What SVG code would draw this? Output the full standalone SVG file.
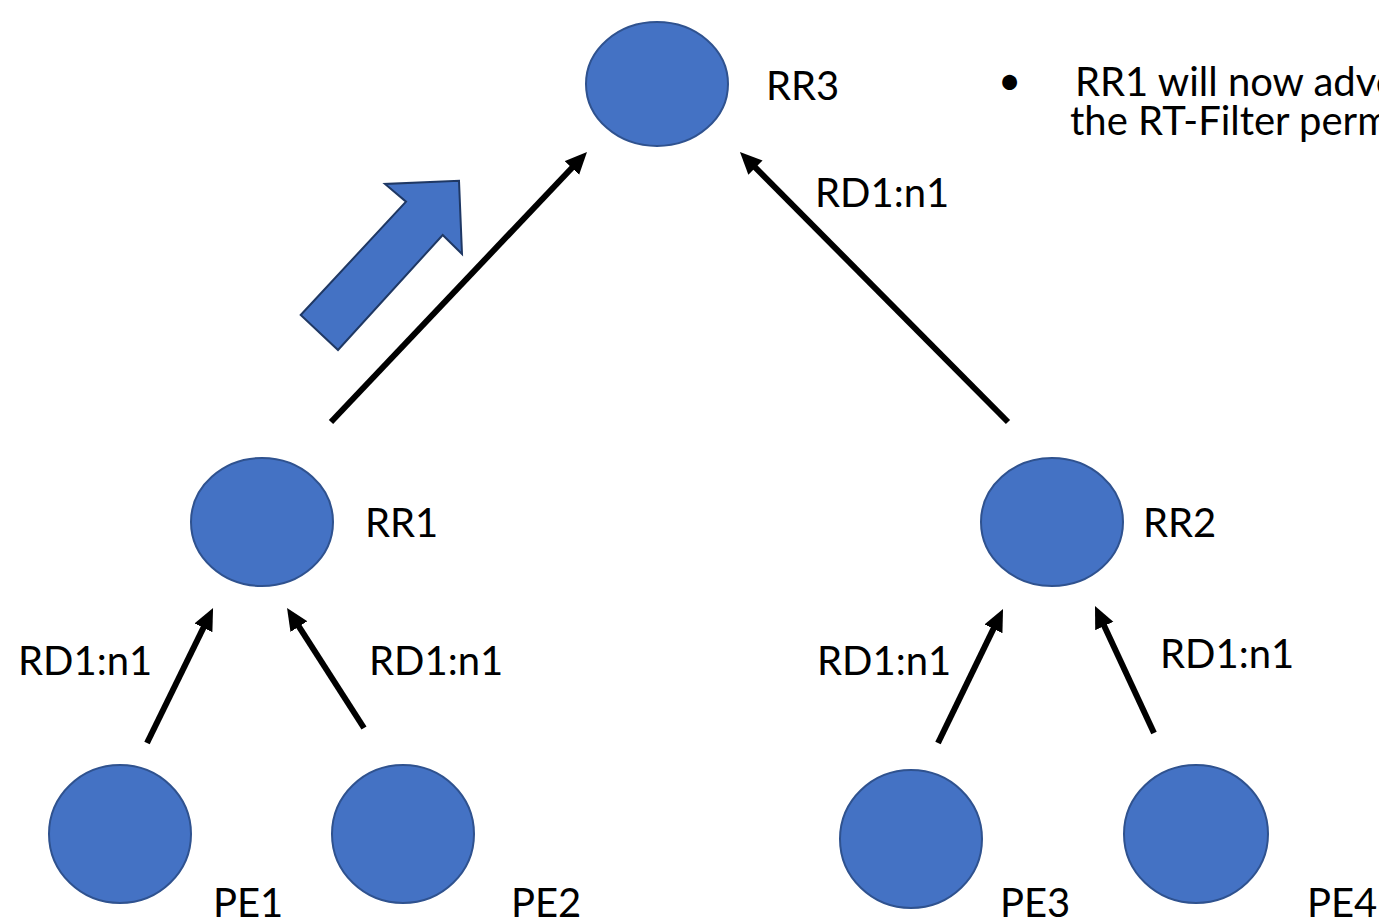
<svg xmlns="http://www.w3.org/2000/svg" width="1379" height="923" viewBox="0 0 1379 923">
<style>
.node{fill:#4472C4;stroke:#2F528F;stroke-width:2}
.lbl{font-family:Lato,"Open Sans",sans-serif;font-size:40px;fill:#000}
.conn{stroke:#000;stroke-width:6;fill:none;marker-end:url(#ah)}
</style>
<defs>
<marker id="ah" markerUnits="userSpaceOnUse" markerWidth="24" markerHeight="22" refX="13" refY="10" orient="auto">
<path d="M0,0 L22,10 L0,20 z" fill="#000"/>
</marker>
</defs>
<rect width="1379" height="923" fill="#fff"/>
<g id="connectors">
<line class="conn" x1="331" y1="422" x2="580.8" y2="158.5"/>
<line class="conn" x1="1008" y1="422" x2="746.3" y2="158.4"/>
<line class="conn" x1="147" y1="743" x2="209.1" y2="616.1"/>
<line class="conn" x1="364" y1="728" x2="291.9" y2="615.6"/>
<line class="conn" x1="938" y1="743" x2="999.1" y2="617.1"/>
<line class="conn" x1="1154" y1="733" x2="1098.8" y2="614.2"/>
<polygon id="block-arrow" points="300.7,315 406,201.7 385,184 459,180.7 462,254 442.7,235 338,350" fill="#4472C4" stroke="#1F3864" stroke-width="2"/>
</g>
<g id="RR3"><ellipse class="node" cx="657" cy="84" rx="71" ry="62"/><text class="lbl" x="766" y="100">RR3</text></g>
<g id="RR1"><ellipse class="node" cx="262" cy="522" rx="71" ry="64"/><text class="lbl" x="365" y="537">RR1</text></g>
<g id="RR2"><ellipse class="node" cx="1052" cy="522" rx="71" ry="64"/><text class="lbl" x="1143" y="537">RR2</text></g>
<g id="PE1"><ellipse class="node" cx="120" cy="834" rx="71" ry="69"/><text class="lbl" x="213" y="917">PE1</text></g>
<g id="PE2"><ellipse class="node" cx="403" cy="834" rx="71" ry="69"/><text class="lbl" x="511" y="917">PE2</text></g>
<g id="PE3"><ellipse class="node" cx="911" cy="839" rx="71" ry="69"/><text class="lbl" x="1000" y="917">PE3</text></g>
<g id="PE4"><ellipse class="node" cx="1196" cy="834" rx="72" ry="69"/><text class="lbl" x="1307" y="917">PE4</text></g>
<g id="labels">
<text class="lbl" x="815" y="207">RD1:n1</text>
<text class="lbl" x="18" y="675">RD1:n1</text>
<text class="lbl" x="369" y="675">RD1:n1</text>
<text class="lbl" x="817" y="675">RD1:n1</text>
<text class="lbl" x="1160" y="668">RD1:n1</text>
</g>
<g id="note">
<text class="lbl" x="998" y="95">•</text>
<text class="lbl" x="1075" y="96">RR1 will now adve</text>
<text class="lbl" x="1070" y="135">the RT-Filter perm</text>
</g>
</svg>
